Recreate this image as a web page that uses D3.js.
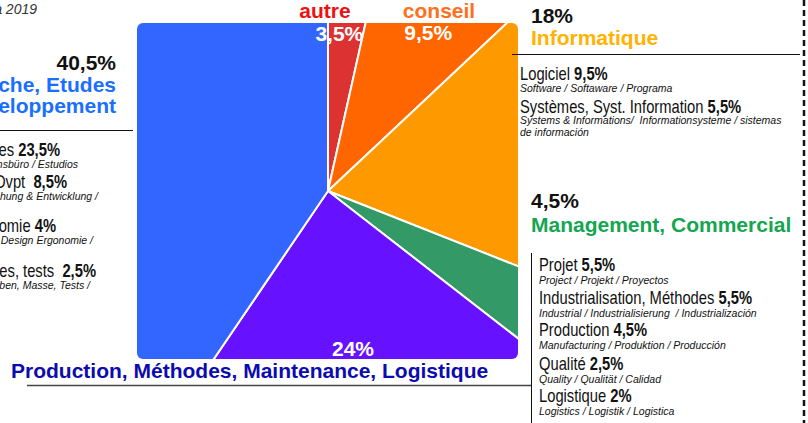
<!DOCTYPE html>
<html>
<head>
<meta charset="utf-8">
<script src="https://cdn.jsdelivr.net/npm/d3@7"></script>
<style>
  body { margin: 0; background: #fff; }
  svg { display: block; }
  .big { font-family: "Liberation Sans", Arial, sans-serif; font-weight: bold; font-size: 21px; }
  .item { font-family: "Liberation Sans", Arial, sans-serif; font-size: 18px; fill: #111; white-space: pre; }
  .item tspan.v { font-weight: bold; }
  .sub { font-family: "Liberation Sans", Arial, sans-serif; font-style: italic; font-size: 10.5px; fill: #111; white-space: pre; }
</style>
</head>
<body>
<div id="chart"></div>
<script>
// pie data, clockwise from 12 o'clock
const sectors = ["autre", "conseil", "Informatique", "Management, Commercial",
                 "Production, Méthodes, Maintenance, Logistique", "Recherche, Etudes"];
const shares = [3.5, 9.5, 18, 4.5, 24, 40.5];
const sliceColors = ["#dc3232", "#ff6600", "#ff9900", "#339966", "#6611ff", "#3366ff"];
const shareLabels = ["3,5%", "9,5%", "", "", "24%", ""];

// detail lists
const infoItems = [["Logiciel ", "9,5%"], ["Systèmes, Syst. Information ", "5,5%"]];
const infoSubs = [["Software / Softaware / Programa"],
                  ["Systems & Informations/  Informationsysteme / sistemas", "de información"]];
const mgmtItems = [["Projet ", "5,5%"], ["Industrialisation, Méthodes ", "5,5%"], ["Production ", "4,5%"],
                   ["Qualité ", "2,5%"], ["Logistique ", "2%"]];
const mgmtSubs = ["Project / Projekt / Proyectos", "Industrial / Industrialisierung  / Industrialización",
                  "Manufacturing / Produktion / Producción", "Quality / Qualität / Calidad",
                  "Logistics / Logistik / Logistica"];
const rdItems = [["Bureau d'études ", "23,5%"], ["Recherche & Dvpt  ", "8,5%"], ["Design, Ergonomie ", "4%"],
                 ["Essais, mesures, tests  ", "2,5%"]];
const rdSubs = ["Design office / Konstruktionsbüro / Estudios", "Research & Development / Forschung & Entwicklung /",
                "Industrial Design / Industrial Design Ergonomie /", "Tests / Proben, Masse, Tests /"];

const width = 808, height = 423;
const narrow = 0.82;   // condensed look of the item titles

let svg = d3.select("#chart").append("svg")
            .attr("width", width)
            .attr("height", height);

// clip area of the pie (rounded box)
let box = {x: 137, y: 23, w: 381, h: 336};
svg.append("clipPath").attr("id", "pieclip")
   .append("rect")
   .attr("x", box.x).attr("y", box.y)
   .attr("width", box.w).attr("height", box.h)
   .attr("rx", 6);

let cx = 328, cy = 191;

let pie = d3.pie().sort(null).value(d => d);
let arcs = pie(shares);
let arc = d3.arc().innerRadius(0).outerRadius(320);

let g = svg.append("g").attr("clip-path", "url(#pieclip)")
           .append("g").attr("transform", "translate(" + cx + "," + cy + ")");

g.selectAll("path")
 .data(arcs)
 .enter().append("path")
 .attr("d", arc)
 .attr("fill", (d, i) => sliceColors[i])
 .attr("stroke", "#fff")
 .attr("stroke-width", 2)
 .attr("stroke-linejoin", "round");

// share labels inside slices (radius tuned per label)
let labelRadius = [158, 182, 0, 0, 160, 0];
let labelShift = [-6, 10, 0, 0, 0, 0];
svg.selectAll("text.share")
   .data(arcs.filter((d, i) => shareLabels[i] !== ""))
   .enter().append("text")
   .attr("class", "big share")
   .attr("fill", "#fff")
   .attr("text-anchor", "middle")
   .attr("x", d => cx + labelShift[d.index] + labelRadius[d.index] * Math.sin((d.startAngle + d.endAngle) / 2))
   .attr("y", d => cy + 7 - labelRadius[d.index] * Math.cos((d.startAngle + d.endAngle) / 2))
   .text(d => shareLabels[d.index]);

// top labels
svg.append("text").attr("class", "big").attr("fill", "#ee1111")
   .attr("x", 325).attr("y", 18).attr("text-anchor", "middle").text(sectors[0]);
svg.append("text").attr("class", "big").attr("fill", "#ff6f20")
   .attr("x", 439).attr("y", 18).attr("text-anchor", "middle").text(sectors[1]);

// bottom heading
svg.append("text").attr("class", "big").attr("fill", "#0b0bb0")
   .attr("x", 11).attr("y", 378).text(sectors[4]);

// right headings
svg.append("text").attr("class", "big").attr("fill", "#111")
   .attr("x", 531).attr("y", 23).text(d3.format(".0f")(shares[2]) + "%");
svg.append("text").attr("class", "big").attr("fill", "#ffb300")
   .attr("x", 531).attr("y", 45).text(sectors[2]);
svg.append("text").attr("class", "big").attr("fill", "#111")
   .attr("x", 531).attr("y", 208).text(String(shares[3]).replace(".", ",") + "%");
svg.append("text").attr("class", "big").attr("fill", "#14a650")
   .attr("x", 531).attr("y", 232).text(sectors[3]);

// left headings (cut by page edge)
svg.append("text").attr("class", "big").attr("fill", "#111")
   .attr("x", 116).attr("y", 70).attr("text-anchor", "end").text(String(shares[5]).replace(".", ",") + "%");
svg.append("text").attr("class", "big").attr("fill", "#1a6fff")
   .attr("x", 116).attr("y", 92).attr("text-anchor", "end").text(sectors[5]);
svg.append("text").attr("class", "big").attr("fill", "#1a6fff")
   .attr("x", 116).attr("y", 113).attr("text-anchor", "end").text("et Développement");

// caption top left
svg.append("text")
   .attr("x", 37).attr("y", 14).attr("text-anchor", "end")
   .attr("font-family", "Liberation Sans, Arial, sans-serif")
   .attr("font-style", "italic").attr("font-size", 14).attr("fill", "#333")
   .text("Offres d'emploi de 2017 à 2019");

// helper for "name value" lines
function item(x, y, pair, anchor) {
  let t = svg.append("text").attr("class", "item")
             .attr("transform", "translate(" + x + "," + y + ") scale(" + narrow + ",1)")
             .attr("text-anchor", anchor || "start");
  t.append("tspan").text(pair[0]);
  t.append("tspan").attr("class", "v").text(pair[1]);
}
function sub(x, y, txt, anchor) {
  svg.append("text").attr("class", "sub").attr("x", x).attr("y", y)
     .attr("text-anchor", anchor || "start").text(txt);
}

// Informatique list
item(520, 80, infoItems[0]);
sub(520, 92, infoSubs[0][0]);
item(520, 113, infoItems[1]);
sub(520, 124, infoSubs[1][0]);
sub(520, 136, infoSubs[1][1]);

// Management / production list
let mgmtY = [271, 304, 336, 370, 402];
mgmtItems.forEach((p, i) => {
  item(539, mgmtY[i], p);
  sub(539, mgmtY[i] + 13, mgmtSubs[i]);
});

// R&D list (left, cut by page edge)
let rdY = [156, 188, 232, 277];
let rdEnd = [60, 67, 56, 96];
let rdSubEnd = [78, 98, 93, 90];
rdItems.forEach((p, i) => {
  item(rdEnd[i], rdY[i], p, "end");
  sub(rdSubEnd[i], rdY[i] + 12, rdSubs[i], "end");
});

// rules
svg.append("line").attr("x1", 0).attr("x2", 133).attr("y1", 130.5).attr("y2", 130.5)
   .attr("stroke", "#111").attr("stroke-width", 1);
svg.append("line").attr("x1", 512).attr("x2", 800).attr("y1", 54.5).attr("y2", 54.5)
   .attr("stroke", "#111").attr("stroke-width", 1);
svg.append("line").attr("x1", 27).attr("x2", 531).attr("y1", 385.5).attr("y2", 385.5)
   .attr("stroke", "#444").attr("stroke-width", 1.5);
svg.append("line").attr("x1", 531.5).attr("x2", 531.5).attr("y1", 253).attr("y2", 423)
   .attr("stroke", "#111").attr("stroke-width", 1);
svg.append("line").attr("x1", 804).attr("x2", 804).attr("y1", 0).attr("y2", 423)
   .attr("stroke", "#111").attr("stroke-width", 2.5).attr("stroke-dasharray", "6,4");
</script>
</body>
</html>
